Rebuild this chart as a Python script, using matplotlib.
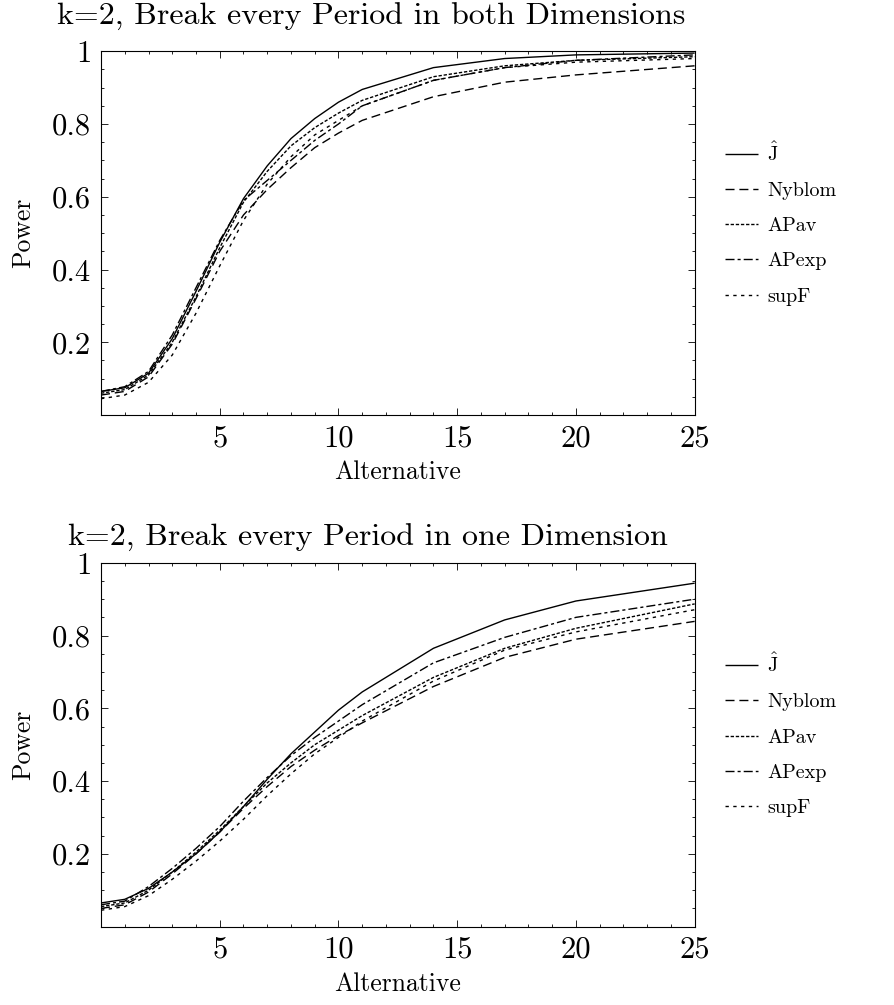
import matplotlib
matplotlib.use("Agg")
import matplotlib.pyplot as plt
from matplotlib.ticker import MultipleLocator

plt.rcParams['font.family'] = 'serif'
plt.rcParams['font.serif'] = ['cmr10', 'DejaVu Serif']
plt.rcParams['mathtext.fontset'] = 'cm'
plt.rcParams['axes.unicode_minus'] = False

# alternative values (grid of the simulation)
alt = [0, 1, 2, 3, 4, 5, 6, 7, 8, 9, 10, 11, 14, 17, 20, 25]

# power, break every period in both dimensions
both_J = [0.065, 0.075, 0.115, 0.21, 0.34, 0.475, 0.595, 0.685, 0.76, 0.815, 0.86, 0.895, 0.955, 0.98, 0.99, 0.995]
both_nyblom = [0.055, 0.065, 0.105, 0.195, 0.32, 0.45, 0.55, 0.62, 0.68, 0.735, 0.775, 0.81, 0.875, 0.915, 0.935, 0.96]
both_apav = [0.06, 0.07, 0.11, 0.2, 0.325, 0.46, 0.585, 0.67, 0.74, 0.79, 0.83, 0.865, 0.93, 0.96, 0.975, 0.985]
both_apexp = [0.065, 0.078, 0.12, 0.22, 0.35, 0.48, 0.59, 0.645, 0.70, 0.755, 0.80, 0.85, 0.92, 0.955, 0.975, 0.99]
both_supf = [0.045, 0.055, 0.09, 0.165, 0.28, 0.41, 0.535, 0.635, 0.71, 0.77, 0.81, 0.85, 0.92, 0.955, 0.97, 0.98]

# power, break every period in one dimension
one_J = [0.065, 0.075, 0.105, 0.15, 0.20, 0.26, 0.33, 0.405, 0.475, 0.535, 0.595, 0.645, 0.765, 0.843, 0.895, 0.944]
one_nyblom = [0.05, 0.06, 0.095, 0.145, 0.20, 0.26, 0.325, 0.385, 0.44, 0.485, 0.525, 0.56, 0.66, 0.74, 0.79, 0.839]
one_apav = [0.055, 0.065, 0.10, 0.15, 0.205, 0.265, 0.33, 0.395, 0.45, 0.50, 0.54, 0.58, 0.685, 0.765, 0.82, 0.887]
one_apexp = [0.06, 0.07, 0.11, 0.16, 0.215, 0.275, 0.345, 0.41, 0.47, 0.52, 0.565, 0.61, 0.725, 0.795, 0.85, 0.90]
one_supf = [0.045, 0.055, 0.085, 0.13, 0.18, 0.235, 0.295, 0.36, 0.42, 0.475, 0.52, 0.565, 0.675, 0.76, 0.81, 0.871]

labels = [r'$\hat{\mathrm{J}}$', 'Nyblom', 'APav', 'APexp', 'supF']
titles = ['k=2, Break every Period in both Dimensions',
          'k=2, Break every Period in one Dimension']
xticks = [5, 10, 15, 20, 25]
xticklabels = ['5', '10', '15', '20', '25']
yticks = [0.2, 0.4, 0.6, 0.8, 1.0]
yticklabels = ['0.2', '0.4', '0.6', '0.8', '1']

styles = [(0, ()), (0, (6.5, 3.5)), (0, (2.4, 1.3)), (0, (6.5, 2.2, 2.2, 2.2)), (0, (2.4, 3.2))]

fig = plt.figure(figsize=(8.94, 10.05), dpi=100)
ax1 = fig.add_axes([0.113, 0.587, 0.664, 0.362])
ax2 = fig.add_axes([0.113, 0.078, 0.664, 0.362])

panels = [(ax1, [both_J, both_nyblom, both_apav, both_apexp, both_supf]),
          (ax2, [one_J, one_nyblom, one_apav, one_apexp, one_supf])]

for i, (ax, series) in enumerate(panels):
    for s, lab, ls in zip(series, labels, styles):
        ax.plot(alt, s, color='black', lw=1.0, linestyle=ls, label=lab)
    ax.set_xlim(0, 25)
    ax.set_ylim(0, 1)
    ax.set_xticks(xticks)
    ax.set_xticklabels(xticklabels, fontsize=22)
    ax.set_yticks(yticks)
    ax.set_yticklabels(yticklabels, fontsize=22)
    ax.xaxis.set_minor_locator(MultipleLocator(1))
    ax.yaxis.set_minor_locator(MultipleLocator(0.05))
    ax.tick_params(which='both', direction='in', top=True, right=True, width=0.6)
    ax.tick_params(which='major', length=5, pad=7)
    ax.tick_params(which='minor', length=2.5)
    for sp in ax.spines.values():
        sp.set_linewidth(0.8)
    ax.set_xlabel('Alternative', fontsize=18.5, labelpad=6)
    ax.set_ylabel('Power', fontsize=18.5, labelpad=12)
    ax.legend(loc='center left', bbox_to_anchor=(1.02, 0.527), frameon=False,
              fontsize=14.5, handlelength=1.65, labelspacing=0.85, handletextpad=0.45)

fig.text(0.415, 0.983, titles[0], ha='center', va='center', fontsize=23)
fig.text(0.412, 0.465, titles[1], ha='center', va='center', fontsize=23)

fig.savefig('out.png', dpi=100)
